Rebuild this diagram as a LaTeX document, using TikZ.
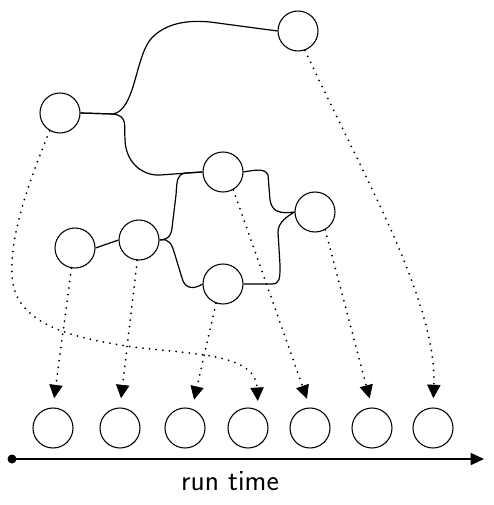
\documentclass[tikz,border=0pt]{standalone}
\usepackage{tikz}
\usetikzlibrary{arrows.meta}

\begin{document}
\begin{tikzpicture}[x=0.75pt,y=-0.75pt,
	job/.style={draw,circle,minimum size=30pt,inner sep=0pt,line width=0.8pt},
	link/.style={line width=0.9pt},
	dep/.style={line width=1.5pt,line cap=round,dash pattern=on 0pt off 5pt,
		-{Triangle[length=10pt,width=10pt,line width=0.5pt]},shorten >=7pt},
	axis/.style={line width=1.3pt,-{Triangle[length=10pt,width=9pt]}}]
	\useasboundingbox (0,0) rectangle (493,505);
	%\draw[help lines] (0,0) grid[step=50] (493,505);
	\node[job] (root) at (60,113) {};
	\node[job] (top) at (298,31) {};
	\node[job] (mid) at (223,172) {};
	\node[job] (side) at (315,212) {};
	\node[job] (left) at (75,248) {};
	\node[job] (inner) at (139,240) {};
	\node[job] (low) at (223,284) {};
	\foreach \x [count=\i] in {53,120,185,248,310,372,433}
		\node[job] (t\i) at (\x,428) {};
	% solid links
	\draw[link] (root.east) -- (113,114) .. controls (135,110) and (135,60) .. (150,40)
		.. controls (165,22) and (190,20) .. (210,22) -- (top.west);
	\draw[link] (root.east) -- (113,114) .. controls (128,116) and (124,125) .. (125,140)
		.. controls (126,165) and (145,176) .. (160,175) -- (mid.west);
	\draw[link] (mid.west) -- (185,173) .. controls (177,175) and (177,180) .. (176,195)
		-- (172,228) .. controls (171,238) and (165,240) .. (inner.east);
	\draw[link] (mid.east) .. controls (255,170) and (265,168) .. (268,175)
		-- (270,200) .. controls (272,212) and (280,214) .. (side.west);
	\draw[link] (inner.east) .. controls (170,238) and (172,245) .. (175,255)
		-- (182,278) .. controls (185,290) and (195,289) .. (low.west);
	\draw[link] (low.east) -- (272,284) .. controls (280,284) and (280,278) .. (280,265)
		-- (278,232) .. controls (278,222) and (288,216) .. (side.west);
	\draw[link] (left.east) -- (inner.west);
	% dependencies
	\draw[dep] (root.240) .. controls (25,190) and (10,240) .. (12,275)
		.. controls (14,320) and (60,335) .. (120,345)
		.. controls (180,355) and (255,350) .. (t4.60);
	\draw[dep] (left.260) -- (t1.north);
	\draw[dep] (inner.265) -- (t2.north);
	\draw[dep] (low.250) -- (t3.70);
	\draw[dep] (mid.300) -- (t5.north);
	\draw[dep] (side.300) -- (t6.north);
	\draw[dep] (top.290) .. controls (360,170) and (437,300) .. (t7.north);
	% time axis
	\fill (12,459) circle (4.5);
	\coordinate (start) at (12,459);
	\coordinate (stop) at (484,459);
	\draw[axis] (start) -- (stop);
	\node (label) at (230,481) {\sffamily\fontsize{22}{26}\selectfont run time};
\end{tikzpicture}
\end{document}
